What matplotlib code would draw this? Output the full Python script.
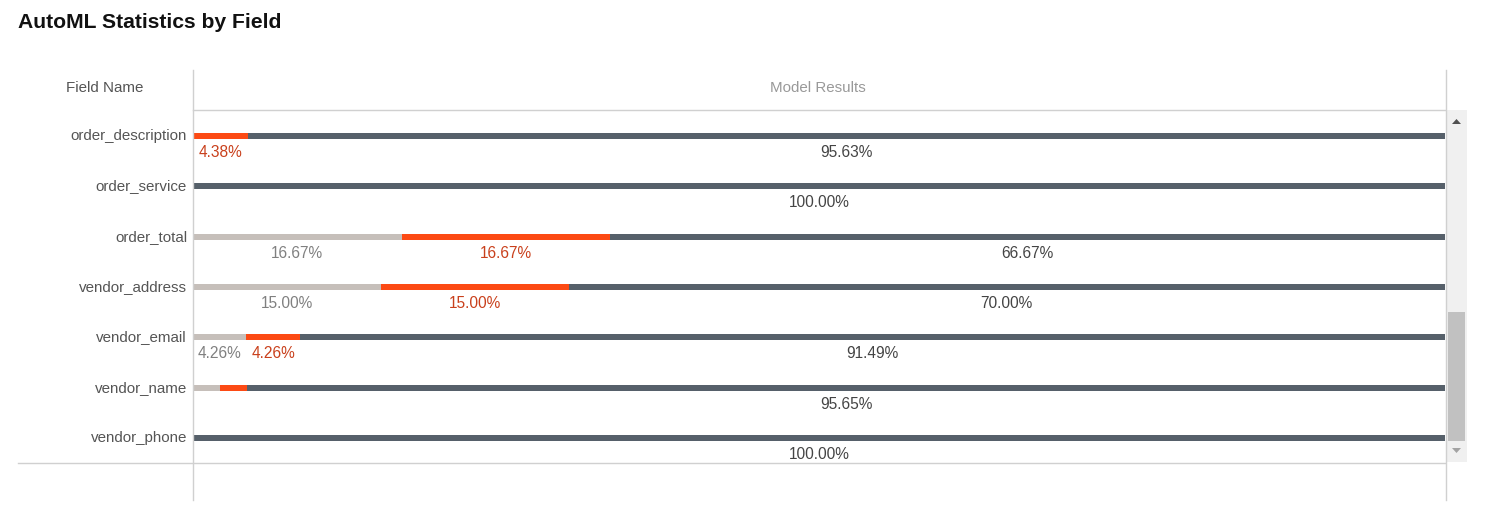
import matplotlib.pyplot as plt
from matplotlib.lines import Line2D
from matplotlib.patches import Rectangle, Polygon

plt.rcParams['font.family'] = ['Liberation Sans', 'DejaVu Sans']

# data (percent of records per field)
fields = ['order_description', 'order_service', 'order_total', 'vendor_address',
          'vendor_email', 'vendor_name', 'vendor_phone']
not_found = [0.0, 0.0, 16.67, 15.00, 4.26, 2.17, 0.0]
incorrect = [4.38, 0.0, 16.67, 15.00, 4.26, 2.17, 0.0]
correct = [95.63, 100.00, 66.67, 70.00, 91.49, 95.65, 100.00]

seg_colors = ['#c6bfba', '#fc4a14', '#56606a']
label_colors = ['#808080', '#c9401c', '#444444']

W, H = 1486, 507
fig = plt.figure(figsize=(W / 100, H / 100), dpi=100)


def fx(px):
    return px / W


def fy(py):
    return 1 - py / H


# plot area: x 193..1445, y 110..463 px
row_gap = 50.33
first_row = 136
ax = fig.add_axes([fx(193), fy(463), fx(1445) - fx(193), fy(110) - fy(463)])
ax.set_xlim(0, 100)
ax.set_ylim((463 - first_row) / row_gap, (110 - first_row) / row_gap)
ax.axis('off')

bar_h = 6 / row_gap
lab_off = 16.5 / row_gap
series = [not_found, incorrect, correct]
for i, name in enumerate(fields):
    left = 0.0
    for k, vals in enumerate(series):
        v = vals[i]
        if v > 0:
            ax.barh(i, v, left=left, height=bar_h, color=seg_colors[k],
                    edgecolor='none')
            if v >= 3:
                ax.text(left + v / 2, i + lab_off, '%.2f%%' % v, ha='center',
                        va='center', fontsize=11.2, color=label_colors[k])
        left += v
    fig.text(fx(187), fy(first_row + i * row_gap), name, ha='right',
             va='center', fontsize=10.9, color='#555555')

# title and headers
fig.text(fx(18), fy(23), 'AutoML Statistics by Field', ha='left', va='center',
         fontsize=15.2, fontweight='bold', color='#111111')
fig.text(fx(105), fy(88.5), 'Field Name', ha='center', va='center',
         fontsize=10.9, color='#555555')
fig.text(fx(818), fy(87.5), 'Model Results', ha='center', va='center',
         fontsize=10.9, color='#999999')

# grid lines
line_kw = dict(transform=fig.transFigure, color='#d0d0d0', lw=1)
fig.add_artist(Line2D([fx(193), fx(193)], [fy(70), fy(500)], **line_kw))
fig.add_artist(Line2D([fx(1445.5), fx(1445.5)], [fy(70), fy(500)], **line_kw))
fig.add_artist(Line2D([fx(193), fx(1445)], [fy(110), fy(110)], **line_kw))
fig.add_artist(Line2D([fx(18), fx(1445)], [fy(463), fy(463)], **line_kw))

# scrollbar
fig.add_artist(Rectangle((fx(1446), fy(462)), fx(21), fy(110) - fy(462),
                         transform=fig.transFigure, color='#f0f0f0', lw=0))
fig.add_artist(Rectangle((fx(1448), fy(441)), fx(17), fy(312) - fy(441),
                         transform=fig.transFigure, color='#c1c1c1', lw=0))
fig.add_artist(Polygon([(fx(1452), fy(124)), (fx(1461), fy(124)),
                        (fx(1456.5), fy(119))], closed=True,
                       transform=fig.transFigure, color='#505050', lw=0))
fig.add_artist(Polygon([(fx(1452), fy(448)), (fx(1461), fy(448)),
                        (fx(1456.5), fy(453))], closed=True,
                       transform=fig.transFigure, color='#a3a3a3', lw=0))

fig.savefig('out.png', dpi=100)
